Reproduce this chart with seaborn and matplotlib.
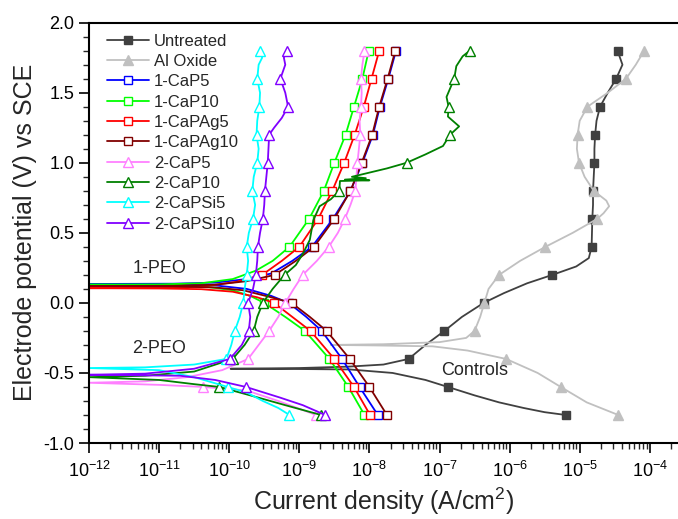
import numpy as np
import pandas as pd
import matplotlib
matplotlib.use("Agg")
import matplotlib.pyplot as plt
import seaborn as sns
from matplotlib.lines import Line2D
from matplotlib.ticker import LogLocator, MultipleLocator, FormatStrFormatter, NullFormatter

# ---- data: log10(current density / A cm^-2) and potential (V vs SCE) ----
untreated_logi = [-4.46, -4.39, -4.48, -4.60, -4.71, -4.76, -4.78, -4.79, -4.79, -4.80, -4.81, -4.81, -4.82,
                  -4.825, -4.83, -4.87, -5.05, -5.39, -5.75, -6.08, -6.37, -6.68, -6.93, -7.2, -7.44, -7.8,
                  -8.3, -9.0, -9.98, -9.0, -8.28, -7.67, -7.2, -6.88, -6.5, -6.15, -5.8, -5.5, -5.20]
untreated_e = [1.8, 1.7, 1.6, 1.5, 1.4, 1.3, 1.2, 1.1, 1.0, 0.9, 0.8, 0.7, 0.6, 0.5, 0.4, 0.32, 0.26, 0.2, 0.14,
               0.07, 0.0, -0.1, -0.2, -0.3, -0.4, -0.44, -0.455, -0.465, -0.47, -0.472, -0.475, -0.5, -0.55,
               -0.6, -0.66, -0.71, -0.75, -0.78, -0.8]

aloxide_logi = [-4.08, -4.2, -4.34, -4.6, -4.89, -5.0, -5.03, -5.04, -5.01, -4.93, -4.80, -4.62, -4.58, -4.66,
                -4.75, -5.1, -5.49, -5.85, -6.15, -6.30, -6.36, -6.42, -6.50, -6.62, -7.0, -7.8, -8.55, -8.0,
                -7.1, -6.6, -6.05, -5.6, -5.27, -4.9, -4.45]
aloxide_e = [1.8, 1.7, 1.6, 1.5, 1.4, 1.3, 1.2, 1.1, 1.0, 0.9, 0.8, 0.73, 0.69, 0.64, 0.6, 0.5, 0.4, 0.3, 0.2,
             0.1, 0.0, -0.1, -0.2, -0.25, -0.28, -0.295, -0.30, -0.303, -0.31, -0.34, -0.4, -0.5, -0.6, -0.71,
             -0.8]

cap5_1_logi = [-7.62, -7.73, -7.85, -7.95, -8.10, -8.27, -8.52, -8.82, -9.1, -9.4, -9.75, -10.2, -10.8, -12.0,
               -10.8, -10.2, -9.75, -9.4, -9.15, -8.9, -8.68, -8.39, -8.14, -7.88]
cap5_1_e = [1.8, 1.6, 1.4, 1.2, 1.0, 0.8, 0.6, 0.4, 0.3, 0.21, 0.17, 0.145, 0.137, 0.135,
            0.132, 0.125, 0.10, 0.05, 0.0, -0.1, -0.2, -0.4, -0.6, -0.8]

cap10_1_logi = [-8.01, -8.1, -8.22, -8.34, -8.50, -8.65, -8.86, -9.14, -9.38, -9.62, -9.95, -10.4, -11.0, -12.0,
                -11.0, -10.4, -9.95, -9.7, -9.5, -9.2, -8.92, -8.57, -8.30, -8.07]
cap10_1_e = [1.8, 1.6, 1.4, 1.2, 1.0, 0.8, 0.6, 0.4, 0.3, 0.23, 0.17, 0.14, 0.132, 0.13,
             0.127, 0.12, 0.09, 0.05, 0.0, -0.1, -0.2, -0.4, -0.6, -0.8]

capag5_1_logi = [-7.86, -7.97, -8.08, -8.21, -8.36, -8.53, -8.73, -9.0, -9.25, -9.53, -9.9, -10.4, -11.0, -12.0,
                 -11.0, -10.4, -9.95, -9.6, -9.36, -9.1, -8.84, -8.50, -8.22, -7.99]
capag5_1_e = [1.8, 1.6, 1.4, 1.2, 1.0, 0.8, 0.6, 0.4, 0.3, 0.2, 0.15, 0.115, 0.107, 0.105,
              0.103, 0.098, 0.08, 0.04, 0.0, -0.1, -0.2, -0.4, -0.6, -0.8]

capag10_1_logi = [-7.63, -7.74, -7.86, -7.96, -8.11, -8.27, -8.50, -8.79, -9.05, -9.35, -9.75, -10.2, -10.8, -12.0,
                  -10.8, -10.2, -9.8, -9.4, -9.11, -8.85, -8.61, -8.28, -8.0, -7.75]
capag10_1_e = [1.8, 1.6, 1.4, 1.2, 1.0, 0.8, 0.6, 0.4, 0.3, 0.2, 0.155, 0.13, 0.122, 0.12,
               0.118, 0.11, 0.09, 0.04, 0.0, -0.1, -0.2, -0.4, -0.6, -0.8]

cap5_2_logi = [-8.07, -8.1, -8.12, -8.11, -8.12, -8.14, -8.13, -8.15, -8.17, -8.2, -8.27, -8.35, -8.45, -8.58,
               -8.75, -8.95, -9.08, -9.2, -9.3, -9.43, -9.58, -9.73, -10.1, -10.6, -11.2, -12.0,
               -11.0, -10.37, -9.75, -9.3, -8.76]
cap5_2_e = [1.8, 1.7, 1.6, 1.5, 1.4, 1.3, 1.2, 1.1, 1.0, 0.8, 0.7, 0.6, 0.5, 0.4, 0.3, 0.2, 0.1, 0.0, -0.1,
            -0.2, -0.3, -0.4, -0.48, -0.53, -0.56, -0.57, -0.585, -0.6, -0.625, -0.70, -0.8]

cap10_2_logi = [-6.57, -6.67, -6.76, -6.79, -6.90, -6.87, -6.88, -6.72, -6.85, -6.95, -7.2, -7.47, -7.75, -8.0,
                -8.25, -8.05, -8.35, -8.0, -8.42, -8.43, -8.55, -8.71, -8.80, -8.85, -8.95, -9.05, -9.21,
                -9.38, -9.52, -9.6, -9.65, -9.78, -9.95, -10.5, -11.2, -12.0,
                -11.0, -10.5, -10.14, -9.7, -9.2, -8.69]
cap10_2_e = [1.8, 1.76, 1.69, 1.6, 1.47, 1.4, 1.33, 1.26, 1.2, 1.12, 1.06, 1.0, 0.96, 0.93, 0.9, 0.89, 0.88,
             0.875, 0.87, 0.8, 0.74, 0.69, 0.59, 0.45, 0.35, 0.27, 0.2, 0.1, 0.0, -0.1, -0.2, -0.3, -0.4,
             -0.49, -0.52, -0.53, -0.55, -0.58, -0.6, -0.66, -0.73, -0.8]

capsi5_2_logi = [-9.56, -9.53, -9.58, -9.60, -9.56, -9.57, -9.60, -9.61, -9.58, -9.60, -9.65, -9.67, -9.63,
                 -9.66, -9.72, -9.75, -9.73, -9.75, -9.78, -9.80, -9.85, -9.92, -9.97, -10.04, -10.5, -11.2,
                 -12.0, -11.0, -10.5, -10.02, -9.75, -9.52, -9.3, -9.14]
capsi5_2_e = [1.8, 1.75, 1.7, 1.6, 1.5, 1.4, 1.3, 1.2, 1.1, 1.0, 0.9, 0.8, 0.7, 0.6, 0.5, 0.4, 0.3, 0.2, 0.1,
              0.0, -0.1, -0.2, -0.3, -0.4, -0.44, -0.46, -0.465, -0.48, -0.53, -0.6, -0.64, -0.70, -0.75, -0.8]

capsi10_2_logi = [-9.18, -9.22, -9.20, -9.27, -9.2, -9.16, -9.25, -9.36, -9.43, -9.44, -9.45, -9.47, -9.49,
                  -9.5, -9.52, -9.56, -9.59, -9.6, -9.62, -9.66, -9.73, -9.70, -9.72, -9.82, -9.99, -10.5,
                  -11.2, -12.0, -10.7, -10.2, -9.76, -9.28, -8.95, -8.63]
capsi10_2_e = [1.8, 1.75, 1.7, 1.6, 1.5, 1.4, 1.32, 1.25, 1.2, 1.1, 1.0, 0.9, 0.8, 0.7, 0.6, 0.5, 0.4, 0.3,
               0.2, 0.1, 0.0, -0.1, -0.2, -0.3, -0.4, -0.47, -0.505, -0.513, -0.52, -0.55, -0.6, -0.675,
               -0.73, -0.8]

series_names = ["Untreated", "Al Oxide", "1-CaP5", "1-CaP10", "1-CaPAg5", "1-CaPAg10",
                "2-CaP5", "2-CaP10", "2-CaPSi5", "2-CaPSi10"]
series_logi = [untreated_logi, aloxide_logi, cap5_1_logi, cap10_1_logi, capag5_1_logi, capag10_1_logi,
               cap5_2_logi, cap10_2_logi, capsi5_2_logi, capsi10_2_logi]
series_e = [untreated_e, aloxide_e, cap5_1_e, cap10_1_e, capag5_1_e, capag10_1_e,
            cap5_2_e, cap10_2_e, capsi5_2_e, capsi10_2_e]

# ---- styles ----
colors = ["#404040", "#c0c0c0", "#0000ff", "#00ff00", "#ff0000", "#800000",
          "#ff80ff", "#008000", "#00ffff", "#8000ff"]
markers = ["s", "^", "s", "s", "s", "s", "^", "^", "^", "^"]
filled = [True, True, False, False, False, False, False, False, False, False]

sns.set_style("ticks")
plt.rcParams["font.family"] = ["Liberation Sans", "DejaVu Sans"]
plt.rcParams["mathtext.fontset"] = "custom"
plt.rcParams["mathtext.rm"] = "Liberation Sans"
plt.rcParams["axes.unicode_minus"] = False

fig = plt.figure(figsize=(6.78, 5.19), dpi=100)
ax = fig.add_axes([89 / 678, 1 - 443 / 519, 589 / 678, (443 - 22.7) / 519])
ax.set_xscale("log")


def mark_idx(e):
    e = np.asarray(e)
    q = e / 0.2
    return [int(i) for i in np.where(np.abs(q - np.round(q)) < 1e-6)[0]]


handles = []
for name, lx, e, c, m, f in zip(series_names, series_logi, series_e, colors, markers, filled):
    df = pd.DataFrame({"i": 10.0 ** np.asarray(lx), "E": e})
    ms = 6.0 if m == "s" else 7.0
    mfc = c if f else "white"
    sns.lineplot(data=df, x="i", y="E", sort=False, estimator=None, ax=ax, color=c, lw=1.3,
                 marker=m, markevery=mark_idx(e), ms=ms, mfc=mfc, mec=c, mew=1.0, legend=False)
    handles.append(Line2D([], [], color=c, lw=1.3, marker=m, ms=ms, mfc=mfc, mec=c, mew=1.0, label=name))

ax.set_xlim(1e-12, 10 ** (-12 + 589 / 70.1))
ax.set_ylim(-1.0, 2.0)

ax.xaxis.set_major_locator(LogLocator(base=10, numticks=30))
ax.xaxis.set_minor_locator(LogLocator(base=10, subs=np.arange(2, 10), numticks=30))
ax.xaxis.set_minor_formatter(NullFormatter())
ax.yaxis.set_major_locator(MultipleLocator(0.5))
ax.yaxis.set_minor_locator(MultipleLocator(0.1))
ax.yaxis.set_major_formatter(FormatStrFormatter("%.1f"))

ax.tick_params(axis="both", which="major", direction="out", length=7, width=1.2, labelsize=13, colors="black")
ax.tick_params(axis="both", which="minor", direction="out", length=4, width=1.0)
ax.tick_params(axis="x", which="major", pad=6)

for s in ["left", "bottom", "top"]:
    ax.spines[s].set_linewidth(1.5)
    ax.spines[s].set_color("black")
ax.spines["right"].set_visible(False)

ax.set_xlabel("Current density (A/cm$\\mathregular{^2}$)", fontsize=18, labelpad=3)
ax.set_ylabel("Electrode potential (V) vs SCE", fontsize=18, labelpad=5)

ax.text(10 ** -10.99, 0.243, "1-PEO", fontsize=13, ha="center", va="center")
ax.text(10 ** -11.0, -0.327, "2-PEO", fontsize=13, ha="center", va="center")
ax.text(10 ** -6.5, -0.48, "Controls", fontsize=13, ha="center", va="center")

ax.legend(handles=handles, loc="upper left", bbox_to_anchor=(0.02, 0.99), frameon=False, fontsize=12,
          handlelength=2.5, handletextpad=0.3, labelspacing=0.32, borderaxespad=0.0)

fig.savefig("out.png", dpi=100)
